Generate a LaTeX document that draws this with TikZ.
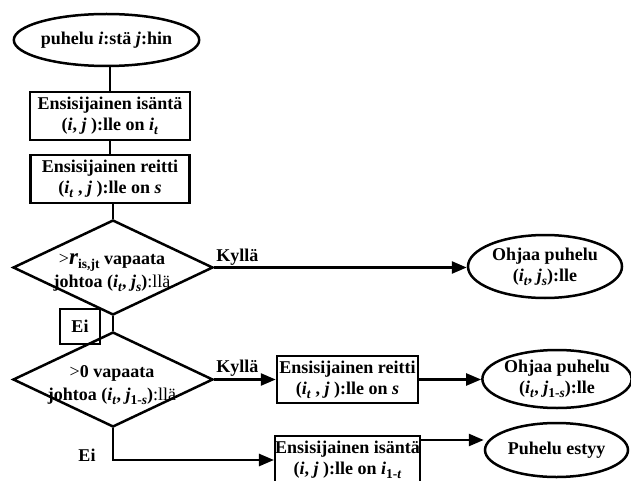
\documentclass[tikz,border=0pt]{standalone}
\usepackage{fontspec}
\setmainfont{Liberation Serif}
\usetikzlibrary{shapes.geometric,arrows.meta}
\newcommand{\iv}[1]{\textit{#1}}
\newcommand{\sbx}[1]{\raisebox{-0.22em}{\fontsize{13.5}{14}\selectfont #1}}
\begin{document}
\begin{tikzpicture}[x=1pt,y=-1pt,
  font=\fontsize{18}{21}\selectfont\bfseries,
  line width=2.5pt,
  box/.style={draw, rectangle, align=center, inner sep=0pt},
  oval/.style={draw, ellipse, align=center, inner sep=0pt},
  dia/.style={draw, diamond, inner sep=0pt, minimum width=200pt, minimum height=95pt},
  lbl/.style={inner sep=0pt},
  arr/.style={-{Triangle[length=15pt,width=12pt]}}]
\clip (0,0) rectangle (631,481);
\fill[white] (0,0) rectangle (631,481);
% left column
\node[oval, minimum width=153pt, minimum height=52pt] (e1) at (106.5,40) {puhelu \iv{i}:stä \iv{j}:hin};
\node[box, minimum width=160pt, minimum height=48pt] (b1) at (110,116) {Ensisijainen isäntä\\(\iv{i}, \iv{j} ):lle on \iv{i}\sbx{\iv{t}}};
\node[box, minimum width=159pt, minimum height=48pt] (b2) at (110,179) {Ensisijainen reitti\\(\iv{i}\sbx{\iv{t}} , \iv{j} ):lle on \iv{s}};
\node[dia] (d1) at (113,267.5) {};
\node[lbl, align=center] (t1) at (112,273) {{\mdseries>}{\fontsize{23}{21}\selectfont\iv{r}}\sbx{is,jt} vapaata\\[2pt]johtoa (\iv{i}\sbx{\iv{t}}, \iv{j}\sbx{\iv{s}}){\mdseries:llä}};
\node[dia] (d2) at (113,379.5) {};
\node[lbl, align=center] (t2) at (112,385) {{\mdseries>}0 vapaata\\[2pt]johtoa (\iv{i}\sbx{\iv{t}}, \iv{j}\sbx{1-\iv{s}}){\mdseries:llä}};
\node[box, minimum width=40pt, minimum height=35pt] (ei) at (80,326.5) {Ei};
\node[lbl] (eib) at (87,455) {Ei};
% right side
\node[oval, minimum width=154pt, minimum height=63pt] (e2) at (545,266.5) {Ohjaa puhelu\\(\iv{i}\sbx{\iv{t}}, \iv{j}\sbx{\iv{s}}):lle};
\node[box, minimum width=141pt, minimum height=47pt] (b3) at (347.5,379.5) {Ensisijainen reitti\\(\iv{i}\sbx{\iv{t}} , \iv{j} ):lle on \iv{s}};
\node[oval, minimum width=144pt, minimum height=58pt] (e3) at (557,379) {Ohjaa puhelu\\(\iv{i}\sbx{\iv{t}}, \iv{j}\sbx{1-\iv{s}}):lle};
\node[box, minimum width=141pt, minimum height=48pt] (b4) at (347.5,460) {Ensisijainen isäntä\\(\iv{i}, \iv{j} ):lle on \iv{i}\sbx{1-\iv{t}}};
\node[oval, minimum width=143pt, minimum height=54pt] (e4) at (556.5,450) {Puhelu estyy};
\node[lbl, anchor=west] (k1) at (215,257) {Kyllä};
\node[lbl, anchor=west] (k2) at (215,368) {Kyllä};
% connectors
\draw (e1.south -| b1.north) -- (b1.north);
\draw (b1.south) -- (b2.north);
\draw (b2.south -| d1.north) -- (d1.north);
\draw (d1.south) -- (d2.north);
\draw[arr] (d1.east) -- (d1.east -| e2.west);
\draw[arr] (d2.east) -- (d2.east -| b3.west);
\draw[arr] (b3.east) -- (b3.east -| e3.west);
\draw[arr] (d2.south) |- (b4.west);
\draw[arr] ([yshift=20pt]b4.east) -- ([yshift=20pt]b4.east -| e4.west);
\end{tikzpicture}
\end{document}
